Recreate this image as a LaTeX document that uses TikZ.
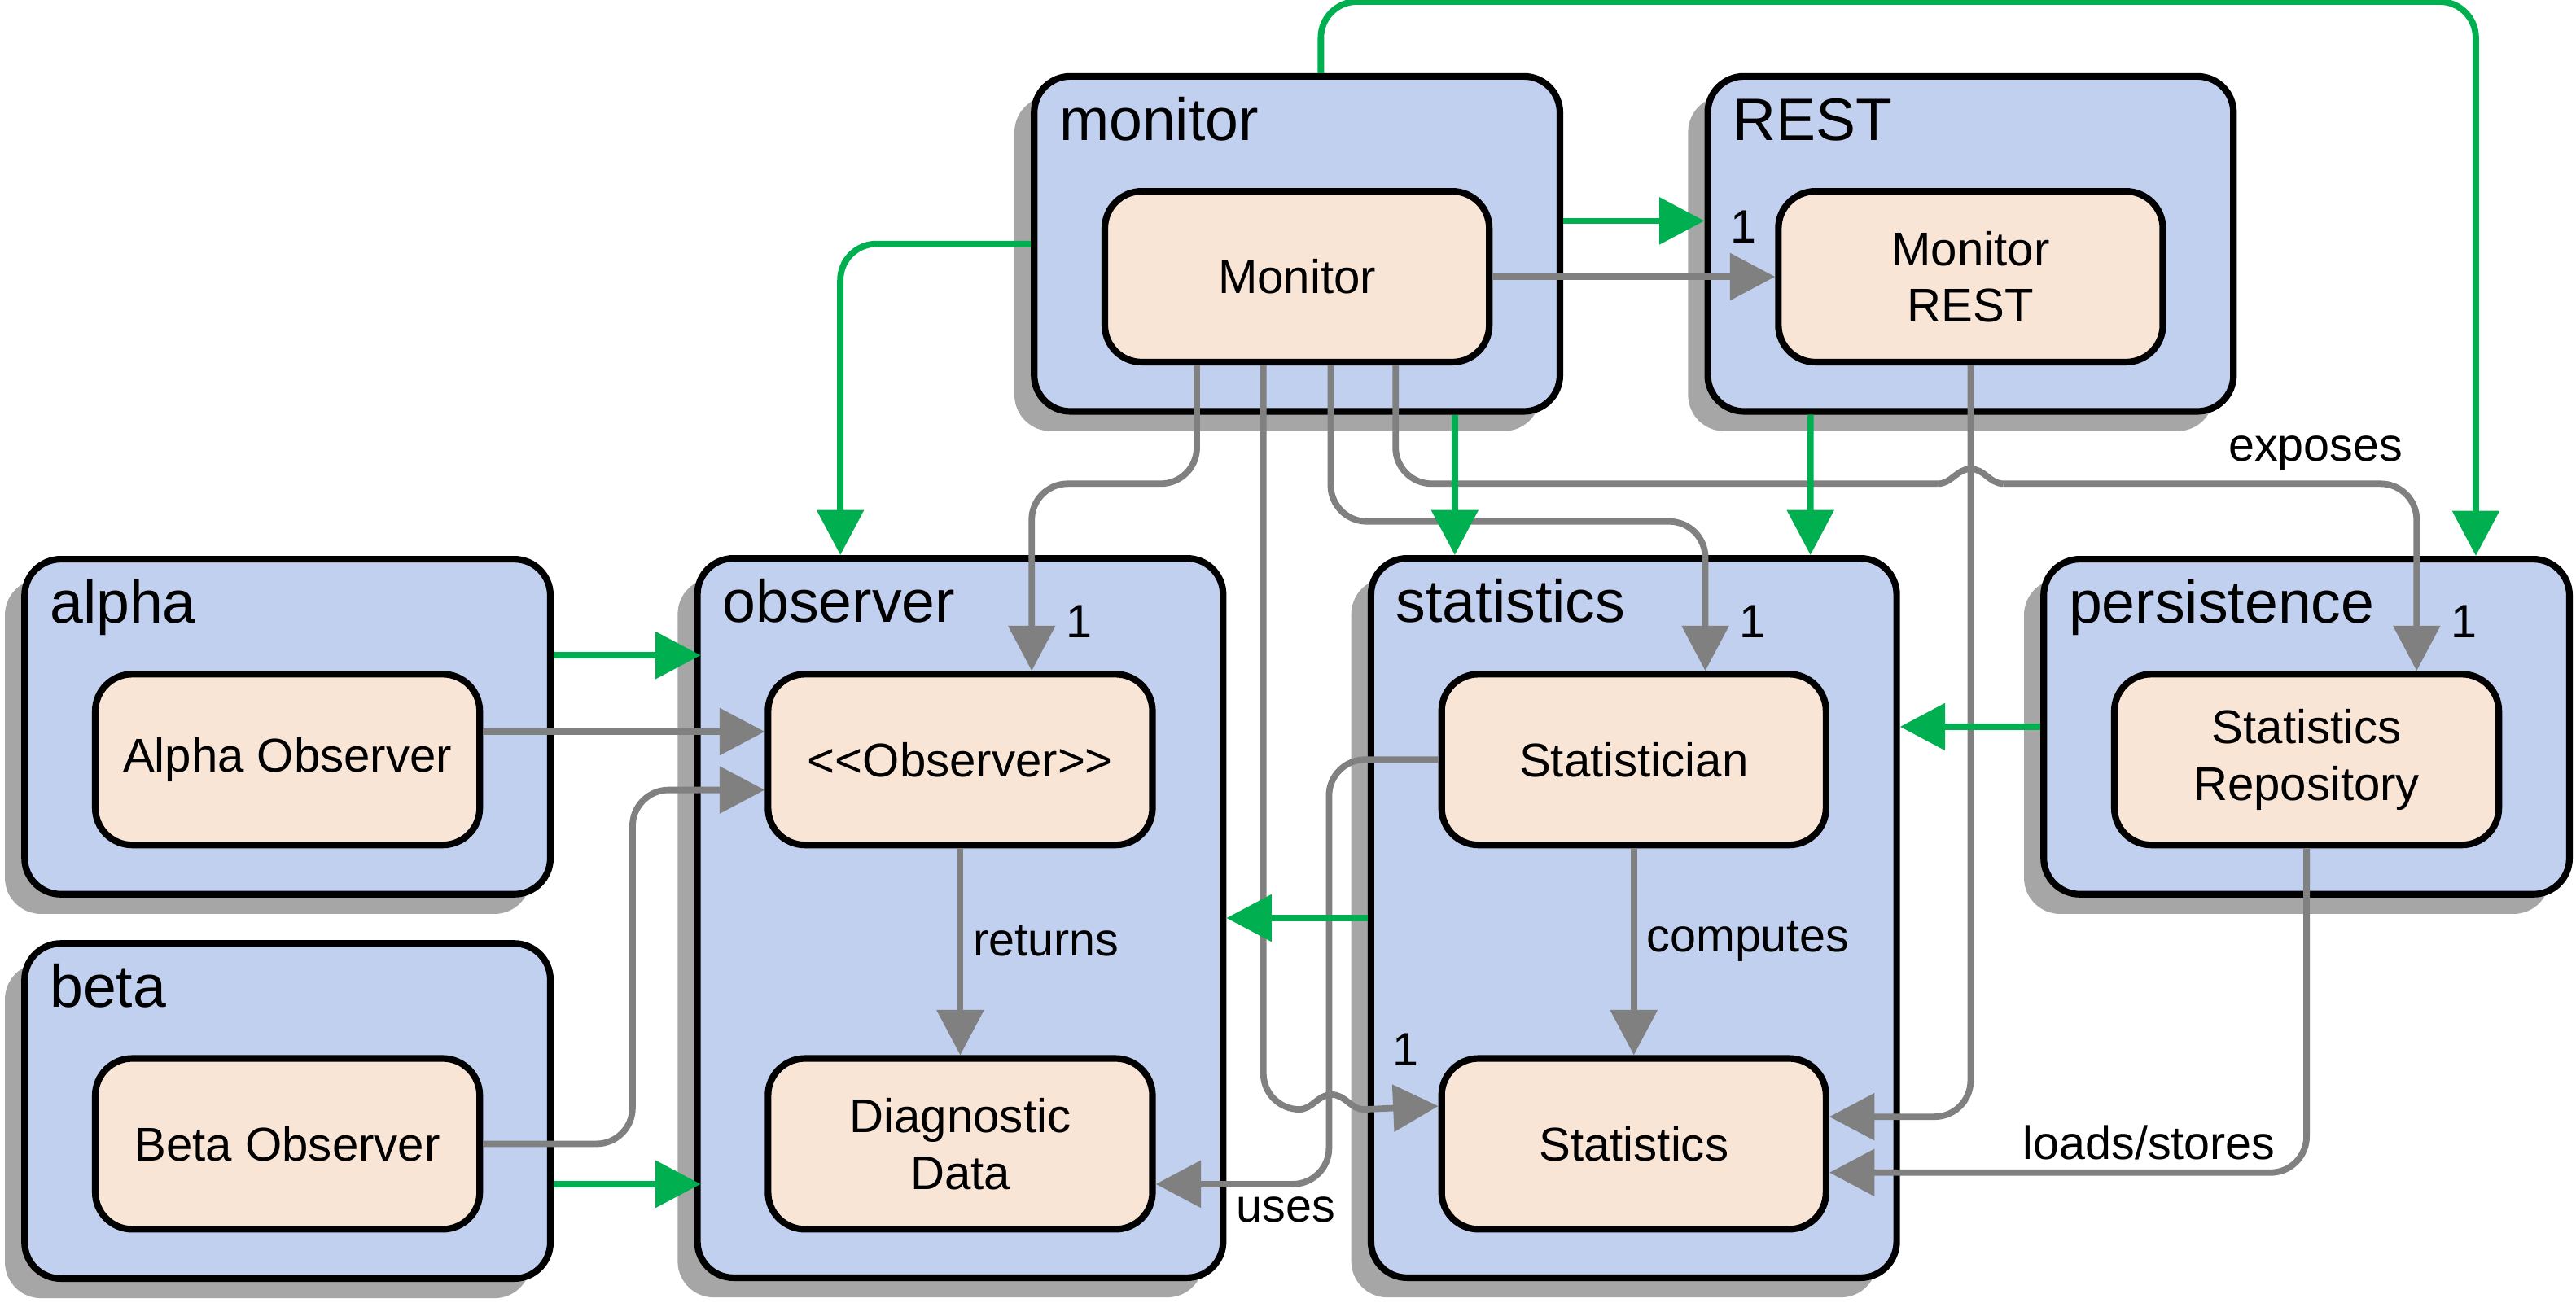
\documentclass[tikz,border=0pt]{standalone}
\usepackage{fontspec}
\setmainfont{Liberation Sans}
\usepackage{tikz}
\usetikzlibrary{arrows.meta, calc, shadows, positioning}

\definecolor{pkgblue}{RGB}{193,208,238}
\definecolor{classtan}{RGB}{249,229,214}
\definecolor{depgreen}{RGB}{0,176,80}
\definecolor{depgray}{RGB}{128,128,128}
\definecolor{shadowgray}{RGB}{166,166,166}

\tikzset{pkgbox/.style={
    draw, line width=2.3pt, fill=pkgblue, rounded corners=0.44cm,
    minimum width=6.4cm, minimum height=4.08cm, inner sep=0pt,
    drop shadow={shadow xshift=-0.24cm, shadow yshift=-0.24cm, fill=shadowgray, opacity=1}
    },
    tallpkg/.style={pkgbox, minimum height=8.76cm},
    classbox/.style={
    draw, line width=2.3pt, fill=classtan, rounded corners=0.45cm,
    minimum width=4.68cm, minimum height=2.08cm, inner sep=0pt,
    align=center, font=\fontsize{16.4}{19.6}\selectfont
    },
    pkgtitle/.style={anchor=base west, inner sep=0pt, font=\fontsize{20.7}{24}\selectfont},
    pkgdep/.style={draw=depgreen, line width=2.2pt, rounded corners=0.44cm, ->},
    classdep/.style={draw=depgray, line width=2.2pt, rounded corners=0.44cm, ->},
    hopline/.style={draw=depgray, line width=2.2pt, sharp corners},
    mult/.style={inner sep=0pt, text=black}
}

\begin{document}
\begin{tikzpicture}[>={Triangle[length=0.55cm,width=0.56cm]}, x=0.2mm, y=-0.2mm,
        font=\fontsize{16.2}{19.4}\selectfont]
        \useasboundingbox (0,0) rectangle (1568,793);

        \node[pkgbox] (monitorpkg) at (789.5,148.5) {};
        \node[pkgbox] (restpkg) at (1199.5,148.5) {};
        \node[pkgbox] (alphapkg) at (175,442.5) {};
        \node[pkgbox] (betapkg) at (175,676.5) {};
        \node[tallpkg] (observerpkg) at (584.5,559) {};
        \node[tallpkg] (statisticspkg) at (994.5,559) {};
        \node[pkgbox] (persistencepkg) at (1404,442.5) {};

        \node[pkgtitle] (monitortitle) at ($(monitorpkg.north west)+(17,41)$) {monitor};
        \node[pkgtitle] (resttitle) at ($(restpkg.north west)+(17,41)$) {REST};
        \node[pkgtitle] (alphatitle) at ($(alphapkg.north west)+(17,41)$) {alpha};
        \node[pkgtitle] (betatitle) at ($(betapkg.north west)+(17,41)$) {beta};
        \node[pkgtitle] (observertitle) at ($(observerpkg.north west)+(17,41)$) {observer};
        \node[pkgtitle] (statisticstitle) at ($(statisticspkg.north west)+(17,41)$) {statistics};
        \node[pkgtitle] (persistencetitle) at ($(persistencepkg.north west)+(17,41)$) {persistence};

        \node[classbox] (monitor) at (789.5,168.5) {Monitor};
        \node[classbox] (monitorrest) at (1199.5,168.5) {Monitor\\REST};
        \node[classbox] (alphaobs) at (175,462.5) {Alpha Observer};
        \node[classbox] (betaobs) at (175,696.5) {Beta Observer};
        \node[classbox] (observer) at (584.5,462.5) {<{}<Observer>{}>};
        \node[classbox] (diagdata) at (584.5,696.5) {Diagnostic\\Data};
        \node[classbox] (statistician) at (994.5,462.5) {Statistician};
        \node[classbox] (statistics) at (994.5,696.5) {Statistics};
        \node[classbox] (statsrepo) at (1404,462.5) {Statistics\\Repository};

        % class dependencies
        \draw[classdep] (monitor.east) -- (monitorrest.west)
            node[mult, anchor=base east, xshift=-0.19cm, yshift=0.41cm] {1};
        \draw[classdep] ($(monitor.south)+(-61,0)$) -- ++(0,72) -| ($(observer.north)+(43.5,0)$)
            node[mult, anchor=base west, xshift=0.38cm, yshift=0.4cm] {1};

        \draw[classdep, -] ($(monitor.south)+(-20.5,0)$) -- ++(0,453) -- ++(21.5,0) coordinate (hopc);
        \draw[hopline, ->] (hopc) to[out=0,in=180] ++(20,-9) to[out=0,in=180] ++(20,9)
            -- ($(statistics.west)+(0,-23)$)
            node[mult, anchor=base east, xshift=-0.2cm, yshift=0.49cm] {1};

        \draw[classdep] ($(monitor.south)+(20.5,0)$) -- ++(0,95) -| ($(statistician.north)+(43.5,0)$)
            node[mult, anchor=base west, xshift=0.38cm, yshift=0.4cm] {1};

        \draw[classdep, -] ($(monitor.south)+(60,0)$) -- ++(0,72) -- ++(330,0) coordinate (hope);
        \draw[hopline] (hope) to[out=0,in=180] ++(20,-9) to[out=0,in=180] ++(20,9) coordinate (hopeend);
        \draw[classdep] (hopeend) -- ++(190,0) node[above] {exposes} -| ($(statsrepo.north)+(67,0)$)
            node[mult, anchor=base west, xshift=0.38cm, yshift=0.4cm] {1};

        \draw[classdep] (monitorrest.south) |- ($(statistics.east)+(0,-16.5)$);
        \draw[classdep] (statsrepo.south) |- ($(statistics.east)+(0,17.5)$)
            node[pos=0.665, above] {loads/stores};
        \draw[classdep] (statistician.west) -- ++(-66.5,0) |- ($(diagdata.east)+(0,24.5)$)
            node[pos=0.624, below] {uses};
        \draw[classdep] (observer) -- (diagdata) node[pos=0.45, right] {returns};
        \draw[classdep] (statistician) -- (statistics) node[pos=0.45, right] {computes};
        \draw[classdep] ($(alphaobs.east)+(0,-17)$) -- ($(observer.west)+(0,-17)$);
        \draw[classdep] (betaobs.east) -- ++(91,0) |- ($(observer.west)+(0,18.5)$);

        % package dependencies
        \draw[pkgdep] (monitorpkg.west) -| ($(observerpkg.north)+(-73,0)$);
        \draw[pkgdep] ($(monitorpkg.east)+(0,-14)$) -- ($(restpkg.west)+(0,-14)$);
        \draw[pkgdep] ($(monitorpkg.south)+(96,0)$) -- ($(statisticspkg.north)+(-109,0)$);
        \draw[pkgdep] ($(restpkg.south)+(-97.5,0)$) -- ($(statisticspkg.north)+(107.5,0)$);
        \draw[pkgdep] ($(monitorpkg.north)+(14.5,0)$) -- ++(0,-43.5) -| ($(persistencepkg.north)+(103,0)$);
        \draw[pkgdep] ($(alphapkg.east)+(0,-43.5)$) -- +(89.5,0);
        \draw[pkgdep] ($(betapkg.east)+(0,44.5)$) -- +(89.5,0);
        \draw[pkgdep] (persistencepkg.west) -- (statisticspkg.east |- persistencepkg.west);
        \draw[pkgdep] (statisticspkg.west) -- (observerpkg.east);
    \end{tikzpicture}
\end{document}
